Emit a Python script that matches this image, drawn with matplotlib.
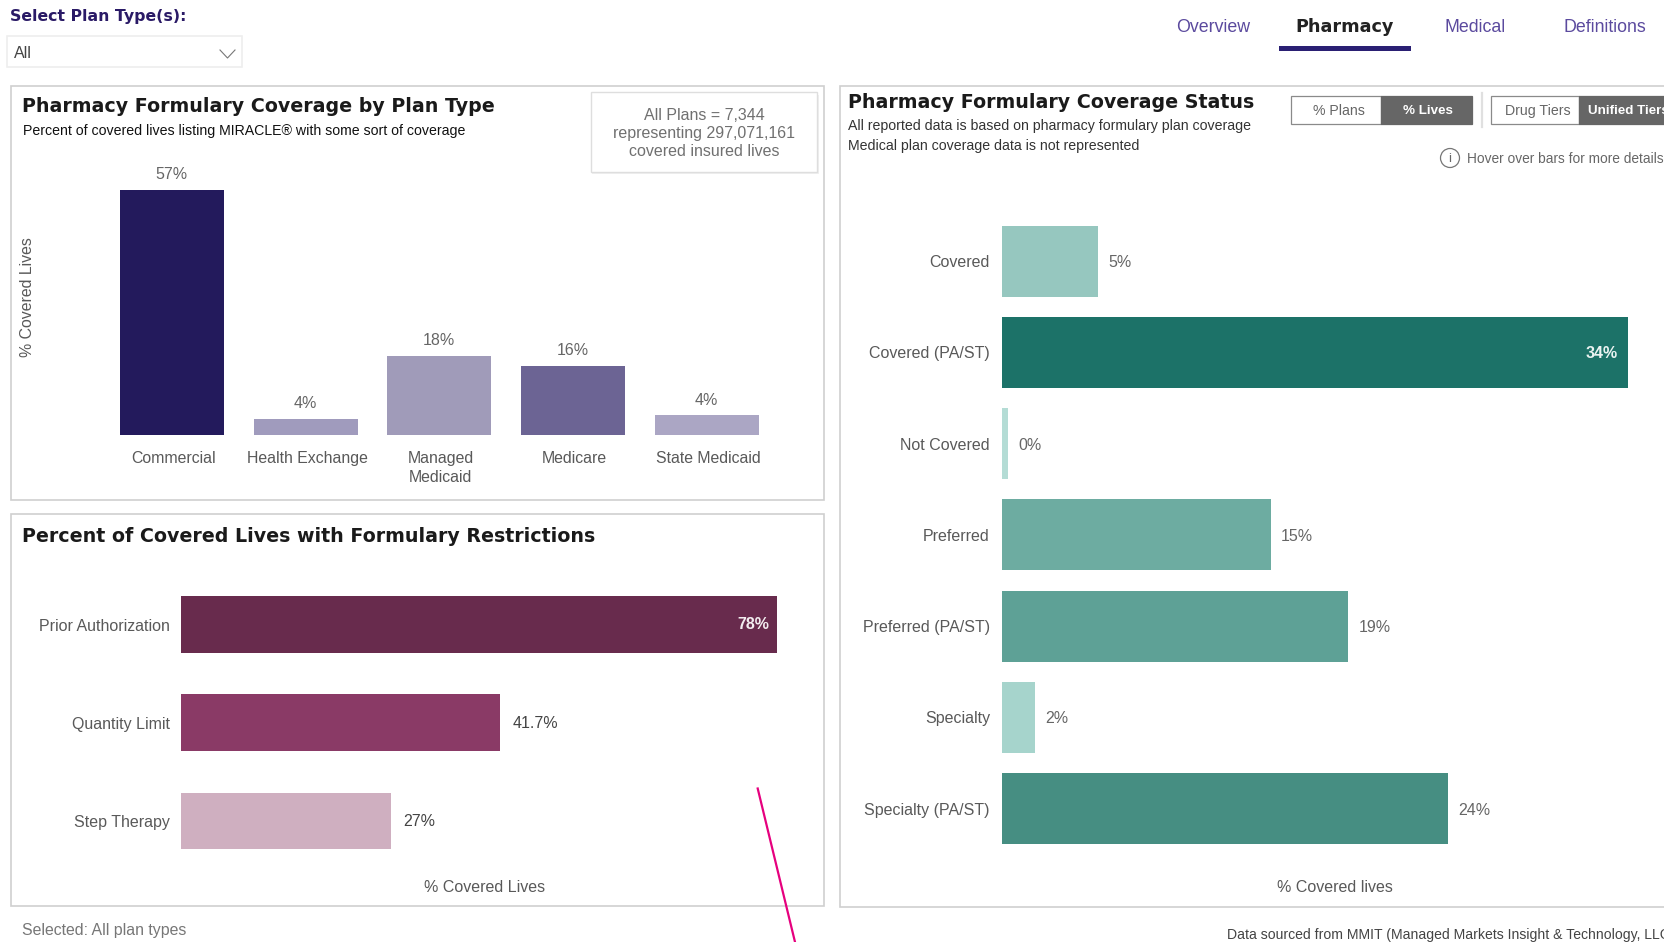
import matplotlib
matplotlib.use('Agg')
import matplotlib.pyplot as plt
from matplotlib.patches import Rectangle, Circle
from matplotlib.transforms import ScaledTranslation

plt.rcParams['font.family'] = ['Liberation Sans', 'DejaVu Sans']

W, H = 1664, 942

# plan type chart
plan_types = ['Commercial', 'Health Exchange', 'Managed\nMedicaid', 'Medicare', 'State Medicaid']
plan_values = [57, 3.6, 18.4, 16, 4.5]
plan_labels = ['57%', '4%', '18%', '16%', '4%']
plan_colors = ['#231A5C', '#A09BBD', '#A09BB9', '#6C6494', '#ABA6C4']

# restrictions chart
restrictions = ['Prior Authorization', 'Quantity Limit', 'Step Therapy']
restriction_values = [78, 41.7, 27.4]
restriction_labels = ['78%', '41.7%', '27%']
restriction_colors = ['#682B4D', '#8A3A66', '#CFAFC0']

# coverage status chart
statuses = ['Covered', 'Covered (PA/ST)', 'Not Covered', 'Preferred',
            'Preferred (PA/ST)', 'Specialty', 'Specialty (PA/ST)']
status_values = [5.2, 34, 0.3, 14.6, 18.8, 1.8, 24.2]
status_labels = ['5%', '34%', '0%', '15%', '19%', '2%', '24%']
status_colors = ['#96C7BF', '#1C7268', '#B4DCD5', '#6DACA1', '#5EA196', '#A6D4CC', '#468E82']

GREY = '#666666'
LABEL = '#595959'
PANEL = '#CFCFCF'
NAVY = '#2A1F73'
TITLE = 13.7
SUB = 10.2


def px_axes(left, top, right, bottom):
    ax = fig.add_axes([left / W, 1 - bottom / H, (right - left) / W, (bottom - top) / H])
    ax.patch.set_alpha(0)
    for spine in ax.spines.values():
        spine.set_visible(False)
    return ax


fig = plt.figure(figsize=(W / 100, H / 100), dpi=100, facecolor='white')

# page furniture, drawn in pixel coordinates
bg = fig.add_axes([0, 0, 1, 1])
bg.set_xlim(0, W)
bg.set_ylim(H, 0)
bg.axis('off')

for x0, y0, x1, y1 in [(10.5, 86, 824, 500), (10.5, 514, 824, 906), (839.5, 86, 1680, 907)]:
    bg.add_patch(Rectangle((x0, y0), x1 - x0, y1 - y0, fc='white', ec=PANEL, lw=1.2))

bg.text(10, 16, 'Select Plan Type(s):', family='DejaVu Sans', weight='bold', fontsize=11.3,
        color='#2A1A66', va='center')
bg.add_patch(Rectangle((6.5, 36), 235.5, 31, fc='white', ec='#EEEEEE', lw=1.2))
bg.text(14, 54, 'All', fontsize=11.5, color='#444444', va='center')
bg.plot([220, 227.5, 235], [50, 58, 50], color='#777777', lw=0.8)

for label, cx in [('Overview', 1213.5), ('Medical', 1475.5), ('Definitions', 1605)]:
    bg.text(cx, 27.5, label, fontsize=12.8, color='#5B4A9E', ha='center', va='center')
bg.text(1345, 27.5, 'Pharmacy', family='DejaVu Sans', weight='bold', fontsize=12.7,
        color='#222222', ha='center', va='center')
bg.add_patch(Rectangle((1279, 46), 132, 5, fc=NAVY, ec='none'))

# panel titles
bg.text(22, 107, 'Pharmacy Formulary Coverage by Plan Type', family='DejaVu Sans', weight='bold',
        fontsize=TITLE, color='#1A1A1A', va='center')
bg.text(23, 131, 'Percent of covered lives listing MIRACLE® with some sort of coverage',
        fontsize=SUB, color='#111111', va='center')
bg.text(22, 536, 'Percent of Covered Lives with Formulary Restrictions', family='DejaVu Sans', weight='bold',
        fontsize=TITLE, color='#1A1A1A', va='center')
bg.text(848, 102, 'Pharmacy Formulary Coverage Status', family='DejaVu Sans', weight='bold',
        fontsize=TITLE, color='#1A1A1A', va='center')
bg.text(848, 126, 'All reported data is based on pharmacy formulary plan coverage',
        fontsize=SUB, color='#333333', va='center')
bg.text(848, 146, 'Medical plan coverage data is not represented',
        fontsize=SUB, color='#333333', va='center')

# plan count box
bg.add_patch(Rectangle((592, 95), 227, 79, fc='#F0F0F0', ec='none'))
bg.add_patch(Rectangle((590.5, 92), 226.5, 79.5, fc='white', ec='#DEDEDE', lw=1))
for text, y in [('All Plans = 7,344', 115), ('representing 297,071,161', 133.5), ('covered insured lives', 152)]:
    bg.text(704, y, text, fontsize=11.5, color='#707070', ha='center', va='center')

# toggles
bg.add_patch(Rectangle((1291, 96), 90, 28, fc='white', ec='#8A8A8A', lw=0.9))
bg.add_patch(Rectangle((1381, 96), 91, 28, fc='#666666', ec='#666666', lw=0.9))
bg.text(1339, 111, '% Plans', fontsize=10.2, color=GREY, ha='center', va='center')
bg.text(1428, 111, '% Lives', fontsize=9.6, color='white', weight='bold', ha='center', va='center')
bg.plot([1482, 1482], [93, 127], color='#E0E0E0', lw=1.6)
bg.add_patch(Rectangle((1491, 96), 88, 28, fc='white', ec='#8A8A8A', lw=0.9))
bg.add_patch(Rectangle((1579, 96), 100, 28, fc='#666666', ec='#666666', lw=0.9))
bg.text(1538, 111, 'Drug Tiers', fontsize=10.2, color=GREY, ha='center', va='center')
bg.text(1588.5, 111, 'Unified Tiers', fontsize=9.6, color='white', weight='bold', va='center')
bg.add_patch(Circle((1450, 158), 9.5, fc='white', ec='#777777', lw=0.9))
bg.text(1450, 158.5, 'i', fontsize=9.5, color='#666666', ha='center', va='center')
bg.text(1467, 159, 'Hover over bars for more details', fontsize=9.9, color=GREY, va='center')

# footers
bg.text(21.5, 931, 'Selected: All plan types', fontsize=11.4, color='#777777', va='center')
bg.text(1227, 935, 'Data sourced from MMIT (Managed Markets Insight & Technology, LLC)',
        fontsize=10.05, color='#444444', va='center')

# stray pen stroke over the screenshot
bg.plot([757.7, 795], [788.5, 942], color='#E6007E', lw=1.6)

# top left: columns
ax1 = px_axes(105, 177, 773.6, 434.6)
x_pos = list(range(len(plan_types)))
ax1.bar(x_pos, plan_values, width=0.777, color=plan_colors)
ax1.set_xlim(-0.5, 4.5)
ax1.set_ylim(0, 60)
ax1.set_yticks([])
ax1.set_xticks(x_pos, plan_types, fontsize=11.4, color=LABEL, linespacing=1.35, va='top')
ax1.tick_params(axis='x', length=0, pad=11.5)
nudge = ScaledTranslation(1.5 / 100, 0, fig.dpi_scale_trans)
for tick in ax1.get_xticklabels():
    tick.set_transform(tick.get_transform() + nudge)
for x, v, lab in zip(x_pos, plan_values, plan_labels):
    ax1.annotate(lab, (x, v), xytext=(0, 5.6), textcoords='offset points', ha='center', va='bottom',
                 fontsize=11.5, color=GREY)
ax1.set_ylabel('% Covered Lives', fontsize=11.4, color=LABEL)
ax1.yaxis.set_label_coords((35.5 - 105) / 668.6, (434.6 - 297) / 257.6)

# bottom left: restrictions
ax2 = px_axes(181.2, 575.7, 800, 870)
y_pos = list(range(len(restrictions)))
ax2.barh(y_pos, restriction_values, height=0.58, color=restriction_colors)
ax2.set_xlim(0, 80.96)
ax2.set_ylim(2.5, -0.5)
ax2.set_xticks([])
ax2.set_yticks(y_pos, restrictions, fontsize=11.5, color=LABEL)
ax2.tick_params(axis='y', length=0, pad=8)
for y, v, lab in zip(y_pos, restriction_values, restriction_labels):
    if v > 60:
        ax2.annotate(lab, (v, y), xytext=(-5.5, 0.3), textcoords='offset points', ha='right', va='center',
                     fontsize=11.5, color='#F2ECEF', weight='bold')
    else:
        ax2.annotate(lab, (v, y), xytext=(9, -0.3), textcoords='offset points', ha='left', va='center',
                     fontsize=11.5, color='#444444')
ax2.set_xlabel('% Covered Lives', fontsize=11.5, color=LABEL)
ax2.xaxis.set_label_coords((485 - 181.2) / 618.8, -(888 - 870) / 294.3)
ax2.xaxis.label.set_va('center')

# right: coverage status
ax3 = px_axes(1002.2, 215.4, 1664, 854.4)
s_pos = list(range(len(statuses)))
ax3.barh(s_pos, status_values, height=0.778, color=status_colors)
ax3.set_xlim(0, 35.95)
ax3.set_ylim(6.5, -0.5)
ax3.set_xticks([])
ax3.set_yticks(s_pos, statuses, fontsize=11.5, color=LABEL)
ax3.tick_params(axis='y', length=0, pad=8.8)
for y, v, lab in zip(s_pos, status_values, status_labels):
    if v > 30:
        ax3.annotate(lab, (v, y), xytext=(-7.5, -1), textcoords='offset points', ha='right', va='center',
                     fontsize=11.5, color='#EAF3F1', weight='bold')
    else:
        ax3.annotate(lab, (v, y), xytext=(7.4, -1), textcoords='offset points', ha='left', va='center',
                     fontsize=11.5, color=GREY)
ax3.set_xlabel('% Covered lives', fontsize=11.5, color=LABEL)
ax3.xaxis.set_label_coords((1335 - 1002.2) / 661.8, -(888 - 854.4) / 639)
ax3.xaxis.label.set_va('center')

plt.savefig('out.png', dpi=100, facecolor='white')
plt.close()
